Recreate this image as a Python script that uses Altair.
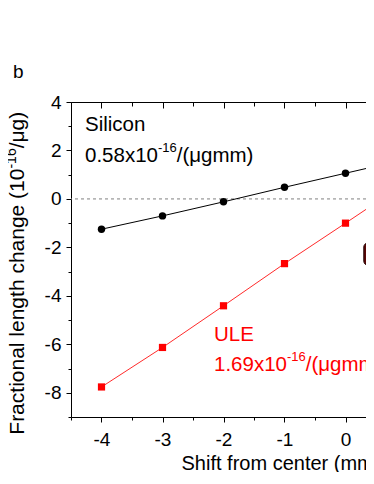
import altair as alt
import pandas as pd

# ---- data ----
shift = [-4, -3, -2, -1, 0, 1]
silicon = [-1.25, -0.70, -0.12, 0.48, 1.06, 1.64]
ule = [-7.76, -6.13, -4.41, -2.67, -1.00, 0.69]

x_major = [-4, -3, -2, -1, 0]
x_minor = [-4.5, -3.5, -2.5, -1.5, -0.5]
y_major = [-8, -6, -4, -2, 0, 2, 4]
y_minor = [-9, -7, -5, -3, -1, 1, 3]

# cropped inset object at the right edge (data units)
inset_x = [0.30]
inset_x2 = [0.70]
inset_y = [-1.82]
inset_y2 = [-2.73]

panel_label = "b"
x_title = "Shift from center (mm)"
y_title_parts = ["Fractional length change (10", "-16", "/\u03bcg)"]
si_text = ["Silicon", "0.58x10", "-16", "/(\u03bcgmm)"]
ule_text = ["ULE", "1.69x10", "-16", "/(\u03bcgmm)"]

FONT = "Liberation Sans"
W, H = 295, 315
XDOM = [-4.5, -4.5 + W / 61.0]
YDOM = [-9, 4]
TICKFS = 19
ANNFS = 20.5

xs = alt.Scale(domain=XDOM, nice=False, zero=False)
ys = alt.Scale(domain=YDOM, nice=False, zero=False)

df = pd.DataFrame({"shift": shift, "si": silicon, "ule": ule})

common_axis = dict(grid=False, domainColor="black", tickColor="black", title=None,
                   domainWidth=1, tickWidth=1)

ax_bottom_major = alt.Axis(orient="bottom", values=x_major, tickSize=5, labelPadding=8,
                           labelFont=FONT, labelFontSize=TICKFS, labelColor="black",
                           labelExpr="toString(datum.value)", labelOverlap=False,
                           labelFlush=False, grid=False, domainColor="black",
                           tickColor="black", title=x_title, titleX=110, titleY=52,
                           titleAlign="left", titleBaseline="alphabetic",
                           titleFont=FONT, titleFontSize=20, titleFontWeight="normal",
                           titleColor="black")
ax_bottom_minor = alt.Axis(orient="bottom", values=x_minor, tickSize=3, labels=False,
                           domain=False, **common_axis)
ax_left_major = alt.Axis(orient="left", values=y_major, tickSize=5, labelPadding=5,
                         labelFont=FONT, labelFontSize=TICKFS, labelColor="black",
                         labelExpr="toString(datum.value)", labelOverlap=False,
                         labelFlush=False, **common_axis)
ax_left_minor = alt.Axis(orient="left", values=y_minor, tickSize=3, labels=False,
                         domain=False, **common_axis)
ax_top_domain = alt.Axis(orient="top", ticks=False, labels=False, domain=True, **common_axis)
ax_top_major = alt.Axis(orient="top", values=x_major, tickSize=6, offset=-6, labels=False,
                        domain=False, **common_axis)
ax_top_minor = alt.Axis(orient="top", values=x_minor, tickSize=4, offset=-4, labels=False,
                        domain=False, **common_axis)

base = alt.Chart(df)

si_line = base.mark_line(color="black", strokeWidth=1, clip=True).encode(
    x=alt.X("shift:Q", scale=xs, axis=ax_bottom_major),
    y=alt.Y("si:Q", scale=ys, axis=ax_left_major))
si_pts = base.mark_point(shape="circle", filled=True, size=55, color="black",
                         opacity=1, clip=True).encode(
    x=alt.X("shift:Q", scale=xs, axis=ax_bottom_minor),
    y=alt.Y("si:Q", scale=ys, axis=ax_left_minor))
ule_line = base.mark_line(color="#ff2a2a", strokeWidth=1, clip=True).encode(
    x=alt.X("shift:Q", scale=xs, axis=ax_top_domain),
    y=alt.Y("ule:Q", scale=ys, axis=None))
ule_pts = base.mark_point(shape="square", filled=True, size=52, color="#ff0000",
                          opacity=1, clip=True).encode(
    x=alt.X("shift:Q", scale=xs, axis=ax_top_major),
    y=alt.Y("ule:Q", scale=ys, axis=None))

zero = alt.Chart(pd.DataFrame({"z": [0]})).mark_rule(
    color="#808080", strokeWidth=1, strokeDash=[3, 3]).encode(
    y=alt.Y("z:Q", scale=ys, axis=None))

inset = alt.Chart(pd.DataFrame({"x": inset_x, "x2": inset_x2, "y": inset_y, "y2": inset_y2})).mark_rect(
    color="#5a0606", cornerRadius=4, stroke="#200000", strokeWidth=1, clip=True).encode(
    x=alt.X("x:Q", scale=xs, axis=ax_top_minor), x2="x2:Q",
    y=alt.Y("y:Q", scale=ys, axis=None), y2="y2:Q")


def txt(s, x, y, size, color="black", angle=0):
    return alt.Chart(pd.DataFrame({"t": [s]})).mark_text(
        font=FONT, fontSize=size, color=color, align="left", baseline="alphabetic",
        angle=angle).encode(x=alt.value(x), y=alt.value(y), text="t:N")


def em(s):
    w = {"0": .556, "1": .556, "5": .556, "6": .556, "8": .556, "9": .556, ".": .278,
         "x": .5, "-": .333}
    return sum(w.get(c, .556) for c in s)


layers = [zero, si_line, ule_line, si_pts, ule_pts, inset]

# panel label
layers.append(txt(panel_label, -58, -24, 19))

# Silicon annotation
sx, sy1, sy2 = 14.0, 29.4, 60.4
layers.append(txt(si_text[0], sx, sy1, ANNFS))
layers.append(txt(si_text[1], sx, sy2, ANNFS))
sup_x = sx + em(si_text[1]) * ANNFS
layers.append(txt(si_text[2], sup_x, sy2 - 10, 13))
layers.append(txt(si_text[3], sup_x + em(si_text[2]) * 13, sy2, ANNFS))

# ULE annotation
ux, uy1, uy2 = 143.0, 239.4, 269.4
layers.append(txt(ule_text[0], ux, uy1, ANNFS, "#ff0000"))
layers.append(txt(ule_text[1], ux, uy2, ANNFS, "#ff0000"))
sup_x = ux + em(ule_text[1]) * ANNFS
layers.append(txt(ule_text[2], sup_x, uy2 - 10, 13, "#ff0000"))
layers.append(txt(ule_text[3], sup_x + em(ule_text[2]) * 13, uy2, ANNFS, "#ff0000"))

# y-axis title (rotated, with superscript)
tx, ty = -47.5, 332.7
p1 = 12.673 * 21
layers.append(txt(y_title_parts[0], tx, ty, 21, angle=270))
layers.append(txt(y_title_parts[1], tx - 8, ty - p1, 14, angle=270))
layers.append(txt(y_title_parts[2], tx, ty - p1 - em(y_title_parts[1]) * 14, 21, angle=270))

chart = alt.layer(*layers).resolve_scale(x="independent", y="independent").properties(
    width=W, height=H,
    autosize=alt.AutoSizeParams(type="none"),
    padding={"left": 63, "top": 94, "right": 0, "bottom": 55},
).configure_view(stroke=None).configure(background="white")

chart.save("out.html", embed_options={"renderer": "svg", "actions": False})
